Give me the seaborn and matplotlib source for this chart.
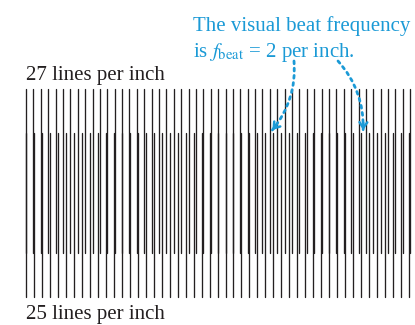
import matplotlib
matplotlib.use("Agg")
import matplotlib.pyplot as plt
import seaborn as sns
import pandas as pd
import numpy as np

# grating definitions (lines per inch and how many lines are drawn)
labels = ["27 lines per inch", "25 lines per inch"]
lines_per_inch = [27, 25]
line_counts = [53, 49]
# vertical extent of each grating (pixels from top)
y_spans = [(89, 253), (133, 297)]

note_line1 = "The visual beat frequency"
note_line2 = r"is $f_{\mathrm{beat}}$ = 2 per inch."
# where the arrows point (inches along the grating)
arrow_targets = [1.235, 1.69]

sns.set_style("white")
plt.rcParams['font.family'] = ['Liberation Serif', 'DejaVu Serif']
plt.rcParams['mathtext.fontset'] = 'stix'

# build the segments table
rows = []
uid = 0
for g, (lpi, n, (y0, y1)) in enumerate(zip(lines_per_inch, line_counts, y_spans)):
    for i in range(n):
        x = i / lpi
        rows.append({'grating': g, 'line': uid, 'x': x, 'y': y0})
        rows.append({'grating': g, 'line': uid, 'x': x, 'y': y1})
        uid += 1
df = pd.DataFrame(rows)

px_per_inch = 199.5
left_px = 26

fig = plt.figure(figsize=(4.15, 3.25), dpi=100)
ax = fig.add_axes([0, 0, 1, 1])
sns.lineplot(data=df, x='x', y='y', units='line', estimator=None, sort=False,
             color='#231f20', linewidth=0.95, legend=False, ax=ax)
ax.set_xlim(-left_px / px_per_inch, (415 - left_px) / px_per_inch)
ax.set_ylim(325, 0)
ax.axis('off')

ax.text(0, 80, labels[0], fontsize=15, color='#231f20', va='baseline', ha='left')
ax.text(0, 319.5, labels[1], fontsize=15, color='#231f20', va='baseline', ha='left')

blue = '#1b9ad6'
tx = (193 - left_px) / px_per_inch
ax.text(tx, 30.5, note_line1, fontsize=15, color=blue, va='baseline', ha='left')
ax.text(tx, 56.5, note_line2, fontsize=15, color=blue, va='baseline', ha='left')

rad = -0.2
start_px = [294, 338]
y_start, y_end = 61, 130
for sx_px, tgt in zip(start_px, arrow_targets):
    sx = (sx_px - left_px) / px_per_inch
    # dotted body
    ax.annotate('', xy=(tgt, y_end), xytext=(sx, y_start),
                arrowprops=dict(arrowstyle='-', color=blue, lw=2.0,
                                linestyle=(0, (1.0, 1.6)),
                                connectionstyle=f'arc3,rad={rad}',
                                shrinkA=0, shrinkB=0))
    # solid head, aligned with the curve's end tangent (pixel space, y up)
    ex_px = left_px + tgt * px_per_inch
    p0 = np.array([sx_px, 325 - y_start])
    p2 = np.array([ex_px, 325 - y_end])
    mid = (p0 + p2) / 2
    d = p2 - p0
    ctrl = mid + rad * np.array([d[1], -d[0]])
    t = (p2 - ctrl) / np.linalg.norm(p2 - ctrl)
    back = p2 - 7 * t
    ax.annotate('', xy=(tgt, y_end),
                xytext=((back[0] - left_px) / px_per_inch, 325 - back[1]),
                arrowprops=dict(arrowstyle='->,head_length=0.4,head_width=0.28',
                                color=blue, lw=1.8, shrinkA=0, shrinkB=0))

fig.savefig('out.png', dpi=100)
